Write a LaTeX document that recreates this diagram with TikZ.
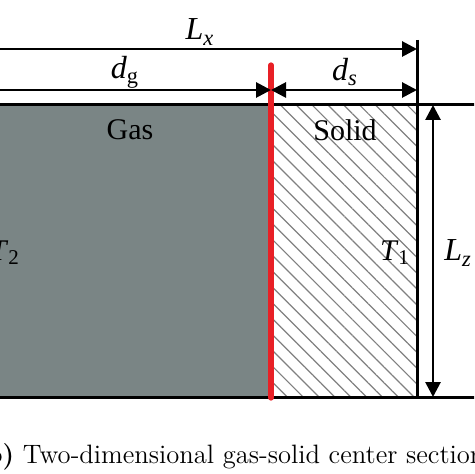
\documentclass[tikz,border=0pt]{standalone}
\usepackage{fontspec}
\newfontfamily\tnr{Liberation Serif}
\usetikzlibrary{arrows.meta,patterns.meta}
\definecolor{gasgray}{RGB}{122,133,133}
\definecolor{wallred}{RGB}{232,32,38}
\tikzset{font={\tnr\fontsize{15pt}{18}\selectfont}}

\begin{document}
\begin{tikzpicture}[x=0.5pt,y=-0.5pt,
    edge line/.style={line width=1.5pt},
    dim line/.style={line width=1.4pt,-{Triangle[length=7.5pt,width=7.5pt]}},
    both dim/.style={line width=1.4pt,{Triangle[length=7.5pt,width=7.5pt]}-{Triangle[length=7.5pt,width=7.5pt]}},
    big label/.style={font={\tnr\fontsize{16pt}{18}\selectfont}}]
  \useasboundingbox (0,0) rectangle (474,474);
  \clip (0,0) rectangle (474,474);

  % corner points of the section
  \coordinate (gasTL) at (-10,105);
  \coordinate (wallT) at (271,105);
  \coordinate (wallB) at (271,397);
  \coordinate (solBR) at (417,397);
  \coordinate (gasBL) at (-10,397);

  % regions
  \fill[gasgray] (gasTL) rectangle (wallB);
  \fill[pattern={Lines[angle=-45,distance=5.6pt,line width=0.6pt]},pattern color=black!50]
    (wallT) rectangle (solBR);

  % outline
  \draw[edge line] (gasTL) -- (480,105);
  \draw[edge line] (gasBL) -- (480,397);
  \draw[edge line] (417,40) -- (solBR);
  \draw[wallred,line width=2.6pt,line cap=round] (271,65) -- (271,398);

  % dimensions
  \coordinate (lxA) at (-10,49);
  \coordinate (lxB) at (417,49);
  \coordinate (dgA) at (-10,90);
  \coordinate (dgB) at (271,90);
  \coordinate (dsB) at (417,90);
  \coordinate (lzA) at (433,105);
  \coordinate (lzB) at (433,397);
  \draw[dim line] (lxA) -- (lxB);
  \draw[dim line] (dgA) -- (dgB);
  \draw[both dim] (dgB) -- (dsB);
  \draw[both dim] (lzA) -- (lzB);

  % labels
  \node[big label] (Lx) at (200,32) {\textit{L}\textsubscript{\textit{x}}};
  \node[big label] (dg) at (125,72) {\textit{d}\textsubscript{g}};
  \node[big label] (ds) at (345,72) {\textit{d}\textsubscript{\textit{s}}};
  \node[big label] (Lz) at (458,253) {\textit{L}\textsubscript{\textit{z}}};
  \node (gas) at (130,130) {Gas};
  \node (solid) at (345,130) {Solid};
  \node (T1) at (395,253) {\textit{T}\textsubscript{1}};
  \node[anchor=east] (T2) at (27,253) {\textit{T}\textsubscript{2}};

  % caption
  \node[anchor=base west,inner sep=0pt,font={\fontsize{13.3pt}{15}\selectfont}] (caption) at (-26,463)
    {\textbf{(b)} Two-dimensional gas-solid center section};
\end{tikzpicture}
\end{document}
